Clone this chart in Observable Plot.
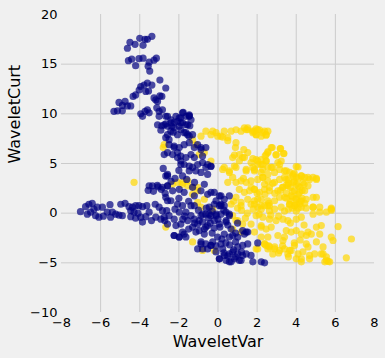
<!DOCTYPE html>
<html>
<head>
<meta charset="utf-8">
<script src="https://cdn.jsdelivr.net/npm/d3@7"></script>
<script src="https://cdn.jsdelivr.net/npm/@observablehq/plot@0.6"></script>
<style>
  html, body { margin: 0; padding: 0; background: #f0f0f0; }
  #chart { width: 385px; height: 358px; }
</style>
</head>
<body>
<div id="chart"></div>
<script>
const xLabel = "WaveletVar";
const yLabel = "WaveletCurt";
const xTicks = [-8, -6, -4, -2, 0, 2, 4, 6, 8];
const yTicks = [-10, -5, 0, 5, 10, 15, 20];
const xGrid = [-6, -4, -2, 0, 2, 4, 6];
const yGrid = [-5, 0, 5, 10, 15];

// Class drawn in navy (negative variance side)
const navyVar = [
-4.63,-4.50,-4.24,-4.00,-3.83,-3.73,-3.61,-3.38,-4.58,-4.41,-4.21,-4.04,-3.83,-3.57,-3.52,-3.49,-3.27,-3.15,-2.97,-2.67,
-4.03,-3.95,-3.78,-3.61,-3.38,-3.69,-3.55,-4.21,-4.34,-3.27,-3.18,-2.97,-2.87,-3.09,-5.06,-4.75,-4.89,-4.63,-4.46,-5.32,
-5.14,-4.89,-3.95,-3.86,-3.73,-3.61,-3.52,-3.13,-3.01,-2.84,-2.58,-3.01,-1.78,-1.47,-1.98,-3.09,-2.87,-2.67,-2.41,-2.24,
-2.07,-1.90,-1.64,-1.44,-2.92,-2.29,-1.90,-1.64,-2.36,
-2.67,-2.41,-2.15,-1.90,-1.64,-1.47,-1.81,-1.55,-1.98,-2.24,-2.58,-2.75,-2.41,-2.07,-1.73,-1.47,-1.30,-2.67,-2.50,-2.24,
-1.98,-1.73,-1.47,-1.21,-1.04,-0.87,-2.32,-2.07,-1.90,-1.64,-1.38,-1.21,-1.90,-1.73,-1.47,-1.30,-1.04,-0.79,-0.53,-0.36,
-1.13,-0.87,-2.67,-2.58,-2.32,-1.98,-1.73,-1.21,-0.87,-0.53,-0.19,0.15,0.32,0.58,-2.67,-2.41,-2.07,-0.10,0.07,
-7.03,-6.77,-6.60,-6.43,-6.68,-6.51,-6.34,-6.17,-5.91,-6.26,-6.09,-5.86,-5.66,-5.52,-5.40,-5.23,-5.49,-5.06,-4.89,-4.97,
-4.75,-4.55,-4.37,-4.21,-4.04,-3.86,-3.64,-4.46,-4.29,-4.09,-4.46,-4.21,-3.95,-3.86,-3.69,-3.52,-3.40,-3.18,-3.21,-3.01,
-2.84,-2.92,-2.72,-3.35,-3.57,-3.06,-2.84,-2.58,-2.58,-2.58,-2.62,
-2.75,-2.50,-2.24,-2.58,-2.15,-1.90,-2.24,-1.98,-1.73,-1.81,-1.64,-1.38,-1.21,-1.55,-1.30,-1.04,-0.87,-0.62,-0.36,-0.10,
0.15,-0.79,-0.53,-0.96,-0.70,-0.87,-0.62,-0.36,-0.79,-0.53,-0.27,0.15,0.24,0.32,0.58,0.07,0.41,0.67,0.84,1.18,
0.75,1.01,1.26,1.44,1.69,1.01,1.26,1.52,0.58,0.75,1.01,1.35,1.52,1.26,2.03,2.21,2.38,-0.02,0.32,-0.19,
0.41,0.58,0.15,0.41,0.67,-1.21,-1.38,-1.98,-0.19,-0.45,
-1.47,-1.38,-1.55,-0.87,-0.62,-0.79,-0.36,-0.62,-0.53,
-1.30,-0.70,-0.36,0.07,0.15,0.32,-0.79,-0.45,-0.10,-0.96,-0.62,0.07,0.41,0.58,1.44,-0.87,-0.36,0.07,0.58,1.09,1.78,-1.64,-1.13,
-2.58,-2.50,-2.24,-2.75,-2.58,-2.07,-1.90,-1.47,-1.81,-2.58,-1.81,-3.52,-2.24,-1.98,-1.81,-1.04,
-1.00,-0.60,-0.30,0.30,-1.50,-2.00,-0.50,0.00,-1.70,-2.20,-1.20,0.50,1.00,-0.20,0.90,0.40,1.20,0.90,0.50,-0.10,
-2.90,-2.70,-2.40,-2.20,-1.60,-1.20,-2.00,-2.80,-3.10,-3.30,
-0.30,0.20,0.60,-0.10,0.30,0.80,-0.40,0.10,-0.70,0.90,-1.50,-1.80
];
const navyCurt = [
16.6,17.2,17.0,17.6,16.9,17.5,17.5,17.8,15.35,15.5,14.85,15.55,15.6,14.8,15.2,14.3,15.4,15.6,13.4,12.6,
12.4,12.75,12.9,13.1,12.9,12.25,12.3,11.9,11.75,11.6,11.4,11.8,11.75,11.25,11.15,11.25,10.85,10.8,10.8,10.25,
10.3,10.3,10.0,9.75,10.25,10.4,10.1,10.6,10.25,10.4,9.75,9.75,10.15,9.8,9.6,8.9,8.8,9.0,9.1,9.15,
9.25,9.1,8.9,8.8,8.35,8.15,8.4,8.1,8.75,
9.75,9.4,9.75,9.6,9.75,9.9,9.1,8.9,8.75,8.6,8.75,8.9,8.25,7.9,8.1,7.75,7.9,7.6,6.9,6.75,
6.6,6.9,7.1,6.6,6.9,6.4,5.9,6.1,5.75,5.6,5.9,5.6,5.25,4.9,4.75,4.6,4.9,5.1,4.9,4.75,
4.25,4.1,3.75,2.75,2.25,2.4,2.1,1.75,2.25,1.9,2.1,1.75,1.4,1.75,1.6,1.25,0.9,1.25,0.75,
0.15,0.65,0.9,1.0,-0.1,0.1,0.4,0.6,0.6,-0.25,-0.4,-0.3,0.1,0.85,0.1,-0.1,-0.4,-0.2,-0.25,0.9,
1.0,0.65,0.6,0.75,0.75,0.65,0.75,0.25,0.1,0.0,-0.35,-0.5,-0.4,-0.9,-0.35,0.1,-0.75,-0.4,0.9,0.6,
0.25,-0.6,-0.75,2.75,2.3,2.65,2.6,3.75,2.75,1.25,0.25,
-0.4,-0.25,-0.6,-1.1,-1.25,-1.1,-2.25,-2.4,-2.1,0.75,0.1,-0.25,-0.6,-0.75,-1.4,-1.1,-0.25,-0.1,-0.25,-0.25,
-0.1,-0.9,-1.25,-1.75,-2.1,-3.1,-3.1,-3.25,-3.6,-3.6,-2.9,-3.1,-3.6,-4.25,-4.1,-4.6,-4.75,-4.9,-4.6,-4.75,
-3.9,-4.1,-4.25,-4.1,-4.25,-3.4,-3.25,-3.1,-2.4,-2.25,-2.4,-2.1,-1.9,-1.75,-3.0,-4.9,-5.0,-2.4,-2.1,-0.75,
-0.9,-0.25,0.75,0.1,-1.6,0.75,0.75,0.1,0.9,0.6,
9.75,9.4,7.9,6.6,6.6,5.75,4.7,4.6,3.9,
2.6,2.9,2.1,1.75,0.9,0.75,-0.1,-0.1,-0.1,-0.75,-1.4,-1.1,-0.75,-0.1,-1.9,-2.9,-3.25,-4.6,-4.9,-4.75,-4.9,-2.4,-1.9,
7.9,7.4,6.6,5.9,6.1,5.6,4.9,4.25,3.75,3.9,10.1,2.75,-2.25,-2.4,-1.9,-3.6,
0.3,0.5,0.2,0.3,1.2,1.5,-0.5,-0.6,-0.3,0.4,-1.0,-1.2,-1.0,-1.5,-2.9,-3.0,-3.9,-4.4,-4.3,-3.9,
2.4,2.0,3.2,3.5,3.4,3.1,4.3,4.5,2.8,2.2,
-2.0,-2.6,-3.2,-3.3,-4.0,-3.7,-1.0,-1.4,-1.6,-2.0,-1.6,-0.6
];

// Class drawn in gold (positive variance side)
const goldVar = [
-0.62,-0.36,-0.10,0.15,0.32,0.67,0.92,1.18,1.35,1.52,1.78,2.03,2.29,2.55,1.95,0.50,-1.30,-1.13,-0.87,-0.96,
-0.70,-0.36,0.24,0.58,0.84,1.09,1.26,1.44,1.69,1.95,2.21,2.46,1.86,2.21,2.55,0.50,0.75,0.92,1.18,1.44,
1.69,2.03,2.29,2.55,1.09,1.35,1.61,1.86,2.12,2.38,2.63,-2.07,-1.81,-1.55,-1.30,-1.04,-0.70,0.92,1.18,1.52,
1.86,2.21,2.55,-2.75,-4.29,-2.67,
0.67,1.18,1.69,2.03,2.38,2.63,0.75,1.01,1.26,1.69,2.21,1.86,2.21,2.38,2.55,2.03,-1.30,-0.79,-0.19,-0.27,-0.87,-1.04,
1.86,2.12,2.38,2.46,2.21,1.95,2.72,2.55,2.46,2.97,3.20,3.37,3.23,3.06,2.72,2.46,2.21,2.03,1.86,2.29,
2.55,2.89,3.15,3.40,3.66,3.83,4.09,4.00,4.26,4.43,4.68,5.03,3.49,3.15,2.89,2.29,2.38,2.63,3.06,3.32,
3.57,3.83,4.09,4.34,4.60,3.91,4.17,4.43,3.74,4.00,4.26,4.51,3.40,3.15,2.89,2.63,3.66,3.91,4.26,4.86,
4.86,5.20,5.79,1.86,2.03,2.21,
1.86,2.21,2.55,2.89,3.23,3.66,3.91,4.17,4.43,4.86,4.86,5.20,5.54,5.79,1.95,2.29,2.63,2.97,3.32,3.57,
4.00,4.26,2.21,2.46,2.72,3.49,3.74,4.00,4.26,4.51,4.77,5.03,5.28,5.20,5.79,5.88,6.14,6.82,2.38,2.63,
2.89,3.15,3.40,3.74,4.09,4.34,4.68,4.94,5.37,5.54,5.63,5.46,4.26,3.57,6.56,3.91,4.51,4.60,5.03,5.37,
3.06,3.40,5.80,4.86,5.03,
-0.27,-0.02,0.24,0.50,1.44,1.52,1.78,1.95,2.46,0.92,0.89,1.32,1.52,1.09,0.84,0.75,1.35,1.78,2.03,2.55,
2.77,2.97,3.18,3.35,2.41,4.00,0.32,0.58,0.92,1.44,1.78,2.29,2.80,3.15,3.49,3.83,4.26,4.60,5.03,
0.92,1.18,0.75,1.95,2.46,2.55,3.32,3.66,4.26,4.68,5.28,5.54,5.71,
-2.32,-1.81,-1.55,-1.04,-1.30,-2.80,
3.50,3.80,4.10,3.60,3.90,4.20,3.70,4.00,4.30,3.40,3.90,4.10,3.30,4.40,3.60,4.00,4.50,
1.20,1.50,1.80,2.10,1.40,1.00,0.80,2.40,2.60,1.70,1.30,2.00,2.80,2.90,
2.60,2.90,3.10,3.30,2.80,3.60,4.00,3.90,4.20,4.60,4.40,3.70,3.10,3.40,2.70,
3.70,3.80,4.20,3.50,3.20,4.30,4.00,3.60,3.80,4.10,3.50,4.00
];
const goldCurt = [
8.25,7.9,8.1,7.75,8.25,8.25,8.4,8.25,8.6,8.4,8.25,8.4,8.1,8.25,7.9,7.6,7.4,6.9,7.75,5.9,
6.1,5.25,4.4,4.25,4.75,5.25,5.6,4.4,5.1,5.4,4.9,5.25,4.25,4.1,4.6,3.1,3.6,3.1,3.25,3.1,
3.25,3.4,3.6,3.25,2.4,2.1,2.25,2.4,2.1,2.4,2.6,3.1,2.9,2.75,2.6,2.25,1.4,1.6,1.1,1.4,
1.25,1.4,1.25,6.9,3.1,-1.4,
0.9,0.75,0.9,0.6,0.75,0.25,-0.25,-0.75,-1.1,-1.1,-1.4,-1.9,-2.4,-3.1,-3.6,-3.6,-2.9,-3.75,-3.75,0.4,0.6,1.1,
8.25,8.4,8.25,7.85,7.75,7.9,6.6,6.1,5.9,5.9,6.5,6.0,5.25,5.1,4.6,5.25,5.4,4.9,4.4,4.4,
3.9,4.1,4.4,4.25,4.1,3.75,4.65,3.6,3.75,3.6,3.4,3.4,3.4,3.4,3.1,3.6,2.9,2.25,2.25,2.6,
2.75,3.1,2.75,3.1,2.75,2.25,2.1,2.25,1.75,1.4,1.25,1.4,1.6,1.6,1.25,0.75,0.9,0.75,0.6,1.6,
0.6,0.6,0.5,2.4,1.4,0.75,
0.9,0.4,0.75,0.4,0.6,0.9,0.75,0.9,1.0,0.6,-0.1,0.1,0.1,0.4,-0.25,-0.4,-0.6,-0.75,-0.6,-0.75,
-0.6,-0.4,-1.25,-1.6,-1.4,-1.75,-1.9,-1.75,-2.1,-2.25,-2.1,-1.4,-1.25,-2.1,-2.4,-2.75,-1.35,-2.6,-3.1,-3.4,
-3.6,-3.75,-3.6,-3.75,-4.1,-3.9,-4.25,-4.1,-4.1,-4.4,-4.85,-4.9,-4.9,-4.1,-4.5,-3.25,-3.1,-3.4,-2.9,-3.4,
-2.25,-2.4,0.3,3.6,1.6,
8.25,7.75,7.65,7.3,8.4,8.6,8.1,8.5,7.9,7.1,6.6,6.4,6.1,5.9,5.85,5.6,5.6,5.5,5.25,6.2,
6.6,5.85,6.5,6.0,5.75,4.7,4.6,4.1,4.6,4.25,4.6,4.9,4.6,4.9,4.25,3.9,3.75,3.6,3.5,
-0.75,-1.9,-1.6,-3.6,-3.25,-2.4,-2.75,-3.75,-4.6,-4.6,-4.1,-4.75,-4.9,
2.9,3.1,3.25,2.6,1.9,6.6,
2.0,2.2,1.9,3.0,3.2,2.6,1.2,0.9,1.5,3.6,4.0,3.5,2.6,2.9,0.4,0.2,0.5,
0.3,0.0,0.4,-0.1,-0.5,0.5,1.2,1.9,1.0,2.6,3.5,2.0,3.0,2.0,
-3.3,-3.4,-4.0,-3.3,-4.1,-4.4,-4.6,-3.0,-2.7,-1.9,-1.2,-1.0,-0.3,0.2,-0.2,
2.6,1.6,1.2,1.5,2.3,2.3,2.9,3.4,0.5,0.5,2.8,1.5
];

const gold = goldVar.map((v, i) => ({v, c: goldCurt[i]}));
const navy = navyVar.map((v, i) => ({v, c: navyCurt[i]}));
const fmt = d => d < 0 ? "\u2212" + Math.abs(d) : String(d);

const chart = Plot.plot({
  width: 385,
  height: 358,
  marginLeft: 61,
  marginRight: 11,
  marginTop: 14,
  marginBottom: 46,
  style: {background: "#f0f0f0", fontFamily: "DejaVu Sans, sans-serif", fontSize: "13px", color: "black"},
  x: {domain: [-8, 8]},
  y: {domain: [-10, 20]},
  marks: [
    Plot.ruleX(xGrid, {stroke: "#cbcbcb", strokeWidth: 1, strokeOpacity: 1}),
    Plot.ruleY(yGrid, {stroke: "#cbcbcb", strokeWidth: 1, strokeOpacity: 1}),
    Plot.axisX(xTicks, {tickSize: 0, tickPadding: 5, tickFormat: fmt, fontSize: 13, label: null}),
    Plot.axisY(yTicks, {tickSize: 0, tickPadding: 4, tickFormat: fmt, fontSize: 13, label: null}),
    Plot.dot(gold, {x: "v", y: "c", r: 3.6, fill: "#ffd700", fillOpacity: 0.7, stroke: "none"}),
    Plot.dot(navy, {x: "v", y: "c", r: 3.6, fill: "#000080", fillOpacity: 0.7, stroke: "none"}),
    Plot.text([xLabel], {frameAnchor: "bottom", dy: 34, fontSize: 16, text: d => d, fill: "black"}),
    Plot.text([yLabel], {frameAnchor: "left", dx: -47, rotate: -90, fontSize: 16, text: d => d, fill: "black"})
  ]
});
document.getElementById("chart").appendChild(chart);
</script>
</body>
</html>
